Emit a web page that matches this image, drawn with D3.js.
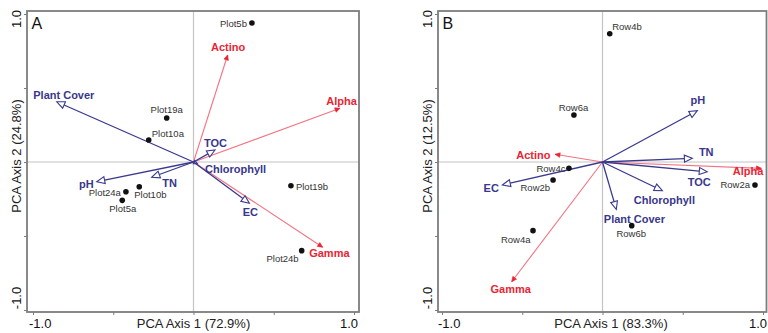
<!DOCTYPE html>
<html>
<head>
<meta charset="utf-8">
<script src="https://cdn.jsdelivr.net/npm/d3@7"></script>
<style>
  html, body { margin: 0; padding: 0; background: #fff; }
  svg { display: block; font-family: Arial, "Liberation Sans", sans-serif; }
</style>
</head>
<body>
<svg id="chart" width="768" height="333"></svg>
<script>
// ---- Panel A: plot scores and variable loadings ----
const siteNamesA = ["Plot5b", "Plot19a", "Plot10a", "Plot24a", "Plot10b", "Plot5a", "Plot19b", "Plot24b"];
const siteXA = [0.364, -0.167, -0.279, -0.421, -0.338, -0.444, 0.607, 0.674];
const siteYA = [0.939, 0.297, 0.149, -0.201, -0.167, -0.259, -0.160, -0.599];

const envNamesA = ["Plant Cover", "pH", "TN", "TOC", "Chlorophyll", "EC"];
const envXA = [-0.852, -0.603, -0.260, 0.134, 0.025, 0.348];
const envYA = [0.407, -0.133, -0.103, 0.081, -0.012, -0.279];

const bioNamesA = ["Actino", "Alpha", "Gamma"];
const bioXA = [0.213, 0.913, 0.805];
const bioYA = [0.723, 0.363, -0.576];

// ---- Panel B: row scores and variable loadings ----
const siteNamesB = ["Row4b", "Row6a", "Row4c", "Row2b", "Row4a", "Row6b", "Row2a"];
const siteXB = [0.045, -0.178, -0.209, -0.308, -0.433, 0.182, 0.950];
const siteYB = [0.867, 0.318, -0.043, -0.122, -0.464, -0.430, -0.155];

const envNamesB = ["pH", "TN", "TOC", "Chlorophyll", "Plant Cover", "EC"];
const envXB = [0.591, 0.560, 0.653, 0.373, 0.086, -0.624];
const envYB = [0.347, 0.025, -0.066, -0.194, -0.320, -0.155];

const bioNamesB = ["Actino", "Alpha", "Gamma"];
const bioXB = [-0.296, 0.990, -0.566];
const bioYB = [0.052, -0.043, -0.809];

// axis titles and tick labels
const panelLetters = ["A", "B"];
const xTitles = ["PCA Axis 1 (72.9%)", "PCA Axis 1 (83.3%)"];
const yTitles = ["PCA Axis 2 (24.8%)", "PCA Axis 2 (12.5%)"];
const tickValues = [-1, -0.5, 0, 0.5, 1];
const tickLabels = ["-1.0", "1.0"];

// ---- styling ----
const BLUE = "#3a3a8e";
const BLUE_TEXT = "#38378c";
const RED_LINE = "#f27484";
const RED_TEXT = "#ea2434";
const FRAME = "#7d7d7d";

// label placements (text-anchor, dx, dy relative to arrow tip / dot, in px)
const labelPlacement = [
  {
    sites: {
      "Plot5b": ["end", -5, 3.5], "Plot19a": ["middle", 0, -5], "Plot10a": ["start", 3, -3],
      "Plot24a": ["end", -5, 4], "Plot10b": ["start", -5, 11], "Plot5a": ["middle", 0.5, 12],
      "Plot19b": ["start", 5, 4], "Plot24b": ["end", -3, 11]
    },
    vars: {
      "Plant Cover": ["start", -23.5, -2.5], "pH": ["end", -3, 6.5], "TN": ["start", 10.5, 9.5],
      "TOC": ["middle", 0.5, -3.5], "Chlorophyll": ["start", 7.5, 9], "EC": ["middle", 1, 12.5],
      "Actino": ["middle", 0.5, -4], "Alpha": ["middle", 1.5, -3.5], "Gamma": ["start", -13.5, 10]
    }
  },
  {
    sites: {
      "Row4b": ["start", 2.5, -3.5], "Row6a": ["middle", -0.5, -4], "Row4c": ["end", -3.5, 3.5],
      "Row2b": ["end", -3, 11], "Row4a": ["end", -2.5, 12], "Row6b": ["middle", -0.5, 11.5],
      "Row2a": ["end", -5, 3.5]
    },
    vars: {
      "pH": ["middle", 0.5, -7], "TN": ["start", 6.5, -2.5], "TOC": ["end", 3.5, 14],
      "Chlorophyll": ["start", -28.5, 13.5], "Plant Cover": ["start", -12.5, 14],
      "EC": ["end", -3.5, 7], "Actino": ["end", -4.5, 4.5], "Alpha": ["end", 2, 7],
      "Gamma": ["middle", -1, 11.5]
    }
  }
];

const panels = [
  {
    frame: { x0: 27, x1: 359, y0: 11, y1: 312 },
    xRange: [33, 354], yRange: [310, 14],
    sites: siteNamesA.map((n, i) => ({ name: n, x: siteXA[i], y: siteYA[i] })),
    env: envNamesA.map((n, i) => ({ name: n, x: envXA[i], y: envYA[i] })),
    bio: bioNamesA.map((n, i) => ({ name: n, x: bioXA[i], y: bioYA[i] })),
    xTitleX: 193.5
  },
  {
    frame: { x0: 438, x1: 766.5, y0: 11, y1: 312 },
    xRange: [442, 763], yRange: [310, 14],
    sites: siteNamesB.map((n, i) => ({ name: n, x: siteXB[i], y: siteYB[i] })),
    env: envNamesB.map((n, i) => ({ name: n, x: envXB[i], y: envYB[i] })),
    bio: bioNamesB.map((n, i) => ({ name: n, x: bioXB[i], y: bioYB[i] })),
    xTitleX: 611
  }
];

const svg = d3.select("#chart");

function arrowHead(g, x0, y0, x1, y1, len, halfW, fill, stroke, sw) {
  const a = Math.atan2(y1 - y0, x1 - x0);
  const bx = x1 - len * Math.cos(a), by = y1 - len * Math.sin(a);
  const px = -Math.sin(a) * halfW, py = Math.cos(a) * halfW;
  g.append("path")
    .attr("d", `M${x1},${y1}L${bx + px},${by + py}L${bx - px},${by - py}Z`)
    .attr("fill", fill).attr("stroke", stroke).attr("stroke-width", sw)
    .attr("stroke-linejoin", "miter");
  return [bx, by];
}

panels.forEach((p, pi) => {
  const g = svg.append("g");
  const x = d3.scaleLinear().domain([-1, 1]).range(p.xRange);
  const y = d3.scaleLinear().domain([-1, 1]).range(p.yRange);
  const f = p.frame;
  const place = labelPlacement[pi];

  // zero reference lines
  g.append("line").attr("x1", f.x0).attr("x2", f.x1).attr("y1", y(0)).attr("y2", y(0))
    .attr("stroke", "#c4c4c4").attr("stroke-width", 1.2);
  g.append("line").attr("x1", x(0)).attr("x2", x(0)).attr("y1", f.y0).attr("y2", f.y1)
    .attr("stroke", "#c4c4c4").attr("stroke-width", 1.2);

  // axes with outward ticks on the bottom and left
  const xAxis = d3.axisBottom(x).tickValues(tickValues).tickSize(3).tickFormat("");
  const yAxis = d3.axisLeft(y).tickValues(tickValues).tickSize(3).tickFormat("");
  g.append("g").attr("transform", `translate(0,${f.y1})`).call(xAxis)
    .call(s => s.select(".domain").remove())
    .call(s => s.selectAll("line").attr("stroke", FRAME));
  g.append("g").attr("transform", `translate(${f.x0},0)`).call(yAxis)
    .call(s => s.select(".domain").remove())
    .call(s => s.selectAll("line").attr("stroke", FRAME));

  // frame
  g.append("rect").attr("x", f.x0).attr("y", f.y0)
    .attr("width", f.x1 - f.x0).attr("height", f.y1 - f.y0)
    .attr("fill", "none").attr("stroke", FRAME).attr("stroke-width", 1.8);

  // tick labels
  g.append("text").attr("x", x(-1) - 4).attr("y", 328).attr("text-anchor", "start")
    .attr("font-size", 13).attr("fill", "#111").text(tickLabels[0]);
  g.append("text").attr("x", x(1) + 4).attr("y", 328).attr("text-anchor", "end")
    .attr("font-size", 13).attr("fill", "#111").text(tickLabels[1]);
  g.append("text").attr("transform", `translate(${f.x0 - 6},${y(1) + 5}) rotate(-90)`)
    .attr("text-anchor", "middle").attr("font-size", 13).attr("fill", "#111").text(tickLabels[1]);
  g.append("text").attr("transform", `translate(${f.x0 - 6},${y(-1) - 12}) rotate(-90)`)
    .attr("text-anchor", "middle").attr("font-size", 13).attr("fill", "#111").text(tickLabels[0]);

  // axis titles
  g.append("text").attr("x", p.xTitleX).attr("y", 328).attr("text-anchor", "middle")
    .attr("font-size", 13).attr("fill", "#222").text(xTitles[pi]);
  g.append("text").attr("transform", `translate(${f.x0 - 6},156) rotate(-90)`)
    .attr("text-anchor", "middle").attr("font-size", 13).attr("fill", "#222").text(yTitles[pi]);

  // panel letter
  g.append("text").attr("x", f.x0 + 4.5).attr("y", 28.5).attr("font-size", 16)
    .attr("fill", "#111").text(panelLetters[pi]);

  const ox = x(0), oy = y(0);

  // response (taxon) arrows: thin red with small solid heads
  p.bio.forEach(d => {
    const tx = x(d.x), ty = y(d.y);
    g.append("line").attr("x1", ox).attr("y1", oy).attr("x2", tx).attr("y2", ty)
      .attr("stroke", RED_LINE).attr("stroke-width", 1.1);
    arrowHead(g, ox, oy, tx, ty, 5, 2.3, RED_TEXT, RED_TEXT, 0.6);
  });

  // environmental arrows: dark blue with open heads
  p.env.forEach(d => {
    const tx = x(d.x), ty = y(d.y);
    const len = Math.hypot(tx - ox, ty - oy);
    const hl = Math.min(8, len * 0.9);
    const a = Math.atan2(ty - oy, tx - ox);
    const bx = tx - hl * Math.cos(a), by = ty - hl * Math.sin(a);
    g.append("line").attr("x1", ox).attr("y1", oy).attr("x2", bx).attr("y2", by)
      .attr("stroke", BLUE).attr("stroke-width", 1.3);
    arrowHead(g, ox, oy, tx, ty, hl, Math.min(3.5, hl * 0.45), "#fff", BLUE, 1.1);
  });

  // sample points
  p.sites.forEach(d => {
    g.append("circle").attr("cx", x(d.x)).attr("cy", y(d.y)).attr("r", 2.8).attr("fill", "#111");
    const pl = place.sites[d.name];
    g.append("text").attr("x", x(d.x) + pl[1]).attr("y", y(d.y) + pl[2])
      .attr("text-anchor", pl[0]).attr("font-size", 9.5).attr("fill", "#333").text(d.name);
  });

  // variable labels
  p.env.forEach(d => {
    const pl = place.vars[d.name];
    g.append("text").attr("x", x(d.x) + pl[1]).attr("y", y(d.y) + pl[2])
      .attr("text-anchor", pl[0]).attr("font-size", 11).attr("font-weight", "bold")
      .attr("fill", BLUE_TEXT).text(d.name);
  });
  p.bio.forEach(d => {
    const pl = place.vars[d.name];
    g.append("text").attr("x", x(d.x) + pl[1]).attr("y", y(d.y) + pl[2])
      .attr("text-anchor", pl[0]).attr("font-size", 11).attr("font-weight", "bold")
      .attr("fill", RED_TEXT).text(d.name);
  });
});
</script>
</body>
</html>
